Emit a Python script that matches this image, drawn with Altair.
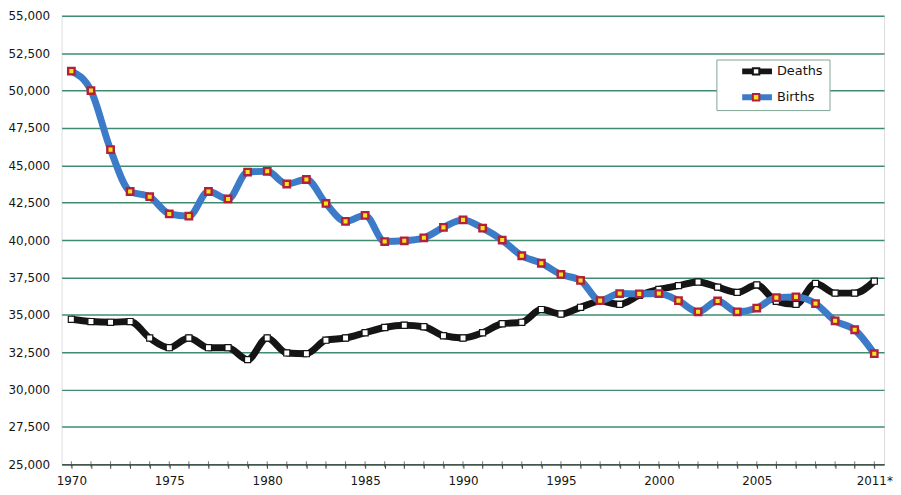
import altair as alt
import pandas as pd

years = list(range(1970, 2012))
deaths = [34700, 34550, 34500, 34550, 33450, 32800, 33450, 32800, 32800, 32000,
          33450, 32450, 32400, 33300, 33450, 33800, 34150, 34300, 34200, 33600,
          33450, 33800, 34400, 34500, 35350, 35050, 35500, 35900, 35700, 36300,
          36700, 36950, 37200, 36850, 36500, 37000, 35900, 35700, 37100, 36450,
          36450, 37250]
births = [51300, 50000, 46050, 43250, 42900, 41750, 41600, 43250, 42750, 44550,
          44600, 43750, 44050, 42450, 41250, 41650, 39900, 39950, 40150, 40850,
          41350, 40800, 40000, 38950, 38450, 37700, 37300, 35950, 36420, 36400,
          36420, 35950, 35200, 35930, 35200, 35450, 36150, 36200, 35750, 34600,
          34000, 32400]
series_names = ["Deaths", "Births"]
line_colors = ["#151515", "#3c7bc8"]
marker_fills = ["#ffffff", "#f7e41c"]
marker_strokes = ["#151515", "#b1203c"]
y_ticks = list(range(25000, 55001, 2500))
x_ticks = [1970 + 0.5 * i for i in range(83)]
x_label_years = [1970, 1975, 1980, 1985, 1990, 1995, 2000, 2005]
last_label = "2011*"

rows = []
for name, vals in zip(series_names, [deaths, births]):
    for yr, v in zip(years, vals):
        rows.append({"year": yr, "value": v, "series": name, "marker": name})
df = pd.DataFrame(rows)
tick_df = pd.DataFrame({"year": years})

FONT = "DejaVu Sans"

label_expr = ("datum.value == 2011 ? '" + last_label + "' : (indexof(["
              + ",".join(str(v) for v in x_label_years)
              + "], datum.value) >= 0 ? datum.label : '')")

x_enc = alt.X(
    "year:Q",
    scale=alt.Scale(domain=[1969.5, 2011.5], nice=False, zero=False),
    axis=alt.Axis(values=x_ticks, format="d", labelExpr=label_expr, title=None,
                  grid=False, tickSize=4, tickColor="#444", domainColor="#444",
                  domainWidth=1.2, labelFont=FONT, labelFontSize=12,
                  labelColor="#151515", labelPadding=7, labelOverlap=False,
                  labelFlush=False),
)
y_enc = alt.Y(
    "value:Q",
    scale=alt.Scale(domain=[25000, 55000], nice=False, zero=False),
    axis=alt.Axis(values=y_ticks, format=",.0f", title=None, grid=True,
                  gridColor="#3f8d6e", gridWidth=1.5, domain=False, ticks=False,
                  labelFont=FONT, labelFontSize=12, labelColor="#151515",
                  labelPadding=12),
)

LEG_X, LEG_Y = 660, 44
common_leg = dict(orient="none", legendY=LEG_Y, title=None, symbolOffset=17,
                  clipHeight=12, rowPadding=13, padding=6,
                  labelFont=FONT, labelFontSize=13)

lines = alt.Chart(df).mark_line(strokeWidth=7, interpolate="monotone").encode(
    x=x_enc, y=y_enc,
    color=alt.Color("series:N", sort=series_names,
                    scale=alt.Scale(range=line_colors),
                    legend=alt.Legend(symbolType="stroke", symbolSize=900,
                                      symbolStrokeWidth=6, labelOffset=2,
                                      legendX=LEG_X,
                                      fillColor="white", strokeColor="#7fa595",
                                      labelColor="#151515",
                                      zindex=1, **common_leg)),
)

pt_leg = alt.Legend(symbolType="square", symbolSize=42, symbolStrokeWidth=2,
                    labelExpr="''", labelOffset=2, legendX=LEG_X + 10.5,
                    zindex=2, **common_leg)
fill_enc = alt.Fill("marker:N", scale=alt.Scale(domain=series_names, range=marker_fills),
                    legend=pt_leg)
stroke_enc = alt.Stroke("marker:N", scale=alt.Scale(domain=series_names, range=marker_strokes),
                        legend=pt_leg)

death_pts = alt.Chart(df).transform_filter(alt.datum.series == "Deaths").mark_point(
    shape="square", filled=True, size=38, strokeWidth=1.2, opacity=1
).encode(x=x_enc, y=y_enc, fill=fill_enc, stroke=stroke_enc)

birth_pts = alt.Chart(df).transform_filter(alt.datum.series == "Births").mark_point(
    shape="square", filled=True, size=42, strokeWidth=2.4, opacity=1
).encode(x=x_enc, y=y_enc, fill=fill_enc, stroke=stroke_enc)

year_ticks = alt.Chart(tick_df).mark_tick(orient="vertical", size=6, thickness=1,
                                          color="#444").encode(
    x=x_enc, y=alt.value(452)
)

chart = alt.layer(year_ticks, lines, death_pts, birth_pts).properties(
    width=829, height=452, padding=0
).configure_view(stroke=None).configure(background="white")

chart.save("out.html", embed_options={"renderer": "svg", "actions": False})
